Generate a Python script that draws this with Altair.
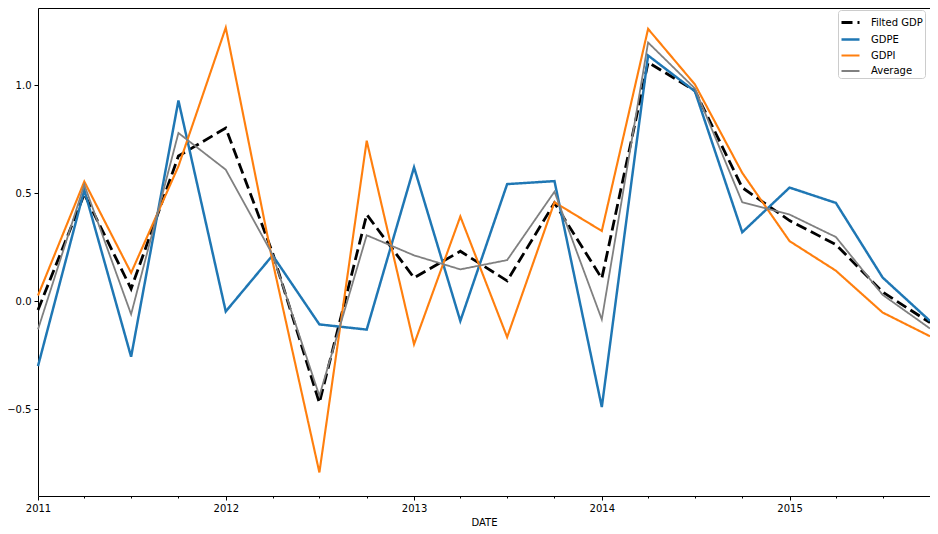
import altair as alt
import pandas as pd

dates = [
    "2011-01-01T00:00:00", "2011-04-01T00:00:00", "2011-07-01T00:00:00", "2011-10-01T00:00:00",
    "2012-01-01T00:00:00", "2012-04-01T00:00:00", "2012-07-01T00:00:00", "2012-10-01T00:00:00",
    "2013-01-01T00:00:00", "2013-04-01T00:00:00", "2013-07-01T00:00:00", "2013-10-01T00:00:00",
    "2014-01-01T00:00:00", "2014-04-01T00:00:00", "2014-07-01T00:00:00", "2014-10-01T00:00:00",
    "2015-01-01T00:00:00", "2015-04-01T00:00:00", "2015-07-01T00:00:00", "2015-10-01T00:00:00",
]

filted_gdp = [-0.04, 0.497, 0.058, 0.673, 0.803, 0.225, -0.47, 0.402, 0.109, 0.232,
              0.095, 0.456, 0.106, 1.107, 0.976, 0.527, 0.374, 0.263, 0.043, -0.099]
gdpe = [-0.30, 0.516, -0.257, 0.93, -0.047, 0.213, -0.107, -0.131, 0.621, -0.091,
        0.543, 0.557, -0.49, 1.139, 0.973, 0.32, 0.527, 0.456, 0.11, -0.091]
gdpi = [0.027, 0.555, 0.132, 0.626, 1.268, 0.185, -0.793, 0.744, -0.199, 0.393,
        -0.166, 0.459, 0.326, 1.262, 1.005, 0.595, 0.279, 0.142, -0.052, -0.162]
average = [-0.13, 0.54, -0.06, 0.78, 0.61, 0.216, -0.438, 0.306, 0.213, 0.148,
           0.191, 0.508, -0.084, 1.199, 0.986, 0.459, 0.402, 0.298, 0.03, -0.126]

series_names = ["Filted GDP", "GDPE", "GDPI", "Average"]
series_values = [filted_gdp, gdpe, gdpi, average]
series_colors = ["#000000", "#1f77b4", "#ff7f0e", "#808080"]
series_dash = [[11, 5], [1, 0], [1, 0], [1, 0]]
series_width = [2.8, 1.8, 1.8, 1.3]

rows = []
for name, vals in zip(series_names, series_values):
    for d, v in zip(dates, vals):
        rows.append({"DATE": d, "series": name, "value": v})
df = pd.DataFrame(rows)

quarter_ticks = [alt.DateTime(year=y, month=m, date=1)
                 for y in range(2011, 2016) for m in (1, 4, 7, 10)]

x_enc = alt.X(
    "DATE:T",
    title="DATE",
    scale=alt.Scale(domain=[alt.DateTime(year=2011, month=1, date=1),
                            alt.DateTime(year=2015, month=10, date=1)]),
    axis=alt.Axis(
        values=quarter_ticks,
        labelExpr="month(datum.value) == 0 ? timeFormat(datum.value, '%Y') : ''",
        tickSize={"condition": {"test": "month(datum.value) == 0", "value": 4}, "value": 2},
        labelPadding=3,
        titlePadding=4,
        grid=False,
        domain=False,
        labelFlush=False,
        labelOverlap=False,
    ),
)
y_enc = alt.Y(
    "value:Q",
    title=None,
    scale=alt.Scale(domain=[-0.902, 1.359], nice=False, zero=False),
    axis=alt.Axis(values=[-0.5, 0.0, 0.5, 1.0], format=".1f", tickSize=4,
                  labelPadding=3, grid=False, domain=False),
)
color_enc = alt.Color(
    "series:N",
    scale=alt.Scale(domain=series_names, range=series_colors),
    legend=alt.Legend(
        title=None, orient="none", legendX=800, legendY=2,
        symbolType="stroke", symbolSize=324, labelOffset=10,
        rowPadding=-7, padding=2, strokeColor="#cccccc", cornerRadius=3,
        fillColor="white", labelFontSize=10, labelFont="DejaVu Sans",
        labelColor="black",
    ),
)
dash_enc = alt.StrokeDash("series:N", scale=alt.Scale(domain=series_names, range=series_dash))
width_enc = alt.StrokeWidth("series:N", scale=alt.Scale(domain=series_names, range=series_width))

layers = []
for name in series_names:
    layers.append(
        alt.Chart(df).transform_filter(alt.datum.series == name)
        .mark_line(strokeCap="butt", strokeJoin="miter")
        .encode(x=x_enc, y=y_enc, color=color_enc, strokeDash=dash_enc, strokeWidth=width_enc)
    )

chart = alt.layer(*layers).properties(
    width=892, height=488,
    autosize=alt.AutoSizeParams(type="none"),
    padding={"left": 30, "top": 0, "right": 0, "bottom": 34},
).configure_view(stroke="black", strokeWidth=1).configure_axis(
    labelFont="DejaVu Sans", labelFontSize=10, labelColor="black",
    titleFont="DejaVu Sans", titleFontSize=10, titleFontWeight="normal", titleColor="black",
    tickColor="black",
)

chart.save("out.html", embed_options={"renderer": "svg", "actions": False})
